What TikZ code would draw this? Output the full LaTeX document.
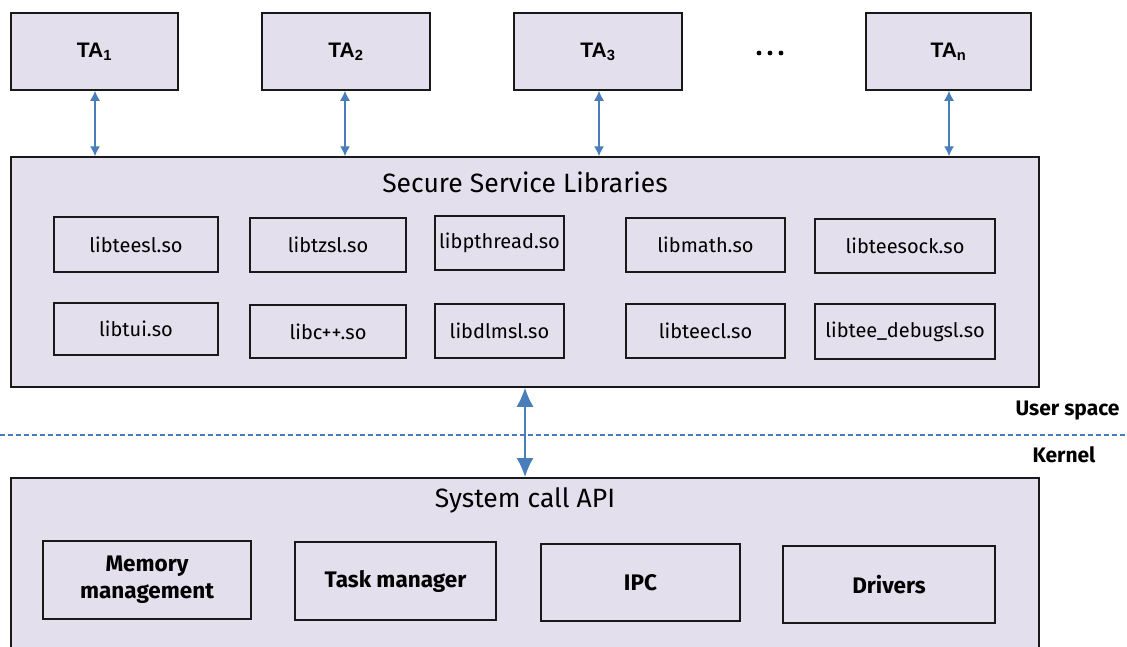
\documentclass[tikz,border=0pt]{standalone}
\usepackage{fontspec}
\setmainfont{Fira Sans}
\newfontfamily\tafont{Liberation Sans}
\usetikzlibrary{arrows.meta}
\definecolor{boxfill}{HTML}{E4DFEC}
\definecolor{arrblue}{HTML}{4A7EBB}
\tikzset{
  box/.style={draw=black!90, line width=1.5pt, fill=boxfill, inner sep=0pt, align=center},
  tabox/.style={box, minimum height=77pt, font=\tafont\fontsize{21}{24}\selectfont\bfseries},
  libbox/.style={box, font=\fontsize{20}{22}\selectfont},
  kbox/.style={box, font=\fontsize{22.5}{27}\selectfont\bfseries},
  smallarr/.style={arrblue, line width=1.4pt, {Latex[length=10pt,width=10pt]}-{Latex[length=10pt,width=10pt]}},
  bigarr/.style={arrblue, line width=1.6pt, {Latex[length=19pt,width=17pt]}-{Latex[length=19pt,width=17pt]}},
  title/.style={font=\fontsize{26.5}{30}\selectfont},
  side/.style={font=\fontsize{21}{24}\selectfont\bfseries}
}
\begin{document}
\begin{tikzpicture}[x=1pt,y=-1pt]
\useasboundingbox (0,0) rectangle (1127,646);
\fill[white] (0,0) rectangle (1127,646);
% TA boxes
\node[tabox, minimum width=167pt] (ta1) at (94.5,51.5) {TA\textsubscript{1}};
\node[tabox, minimum width=168pt] (ta2) at (346,51.5) {TA\textsubscript{2}};
\node[tabox, minimum width=168pt] (ta3) at (598,51.5) {TA\textsubscript{3}};
\node[tabox, minimum width=165pt] (tan) at (948.5,51.5) {TA\textsubscript{n}};
\node[inner sep=0pt] (dots) at (770,53) {\tikz[x=1pt,y=1pt]{\fill (0,0) circle (2.4) (11,0) circle (2.4) (22,0) circle (2.4);}};
% Secure service libraries
\node[box, minimum width=1028pt, minimum height=230pt] (ssl) at (525,272) {};
\node[title] (ssltitle) at (525,182) {Secure Service Libraries};
\node[libbox, minimum width=164pt, minimum height=55pt] (l1) at (136,244.5) {libteesl.so};
\node[libbox, minimum width=156pt, minimum height=54pt] (l2) at (328,245) {libtzsl.so};
\node[libbox, minimum width=129pt, minimum height=54pt] (l3) at (499.5,243) {libpthread.so};
\node[libbox, minimum width=159pt, minimum height=54pt] (l4) at (705.5,245) {libmath.so};
\node[libbox, minimum width=180pt, minimum height=54pt] (l5) at (905,246) {libteesock.so};
\node[libbox, minimum width=164pt, minimum height=52pt] (l6) at (136,329) {libtui.so};
\node[libbox, minimum width=156pt, minimum height=53pt] (l7) at (328,331.5) {libc++.so};
\node[libbox, minimum width=129pt, minimum height=54pt] (l8) at (499.5,331) {libdlmsl.so};
\node[libbox, minimum width=159pt, minimum height=54pt] (l9) at (705.5,331) {libteecl.so};
\node[libbox, minimum width=180pt, minimum height=55pt] (l10) at (905,331.5) {libtee\_debugsl.so};
% System call API
\node[box, minimum width=1028pt, minimum height=190pt, anchor=north] (sys) at (525,477) {};
\node[title] (systitle) at (525,500) {System call API};
\node[kbox, minimum width=208pt, minimum height=78pt] (mm) at (147,580) {Memory\\management};
\node[kbox, minimum width=201pt, minimum height=78pt] (tm) at (395.5,581) {Task manager};
\node[kbox, minimum width=199pt, minimum height=77pt] (ipc) at (640.5,582.5) {IPC};
\node[kbox, minimum width=212pt, minimum height=77pt] (drv) at (889,584.5) {Drivers};
% user/kernel separator
\coordinate (dl) at (0,435);
\coordinate (dr) at (1127,435);
\draw[arrblue, line width=1.6pt, dash pattern=on 5pt off 3pt] (dl) -- (dr);
\node[side, anchor=east] (us) at (1123,411) {User space};
\node[side, anchor=east] (kn) at (1099,455) {Kernel};
% arrows
\draw[smallarr] (ta1.south -| 95,0) -- (95,0 |- ssl.north);
\draw[smallarr] (ta2.south -| 345,0) -- (345,0 |- ssl.north);
\draw[smallarr] (ta3.south -| 599,0) -- (599,0 |- ssl.north);
\draw[smallarr] (tan.south -| 949,0) -- (949,0 |- ssl.north);
\draw[bigarr] (ssl.south) -- (sys.north);
\end{tikzpicture}
\end{document}
